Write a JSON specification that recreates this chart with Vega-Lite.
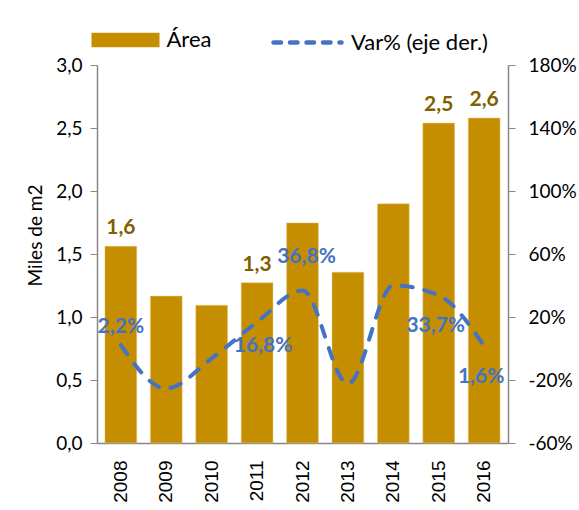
{
  "$schema": "https://vega.github.io/schema/vega-lite/v6.json",
  "width": 411,
  "height": 378,
  "autosize": {"type": "none"},
  "padding": {"left": 97, "top": 65, "right": 71, "bottom": 67},
  "background": "#ffffff",
  "config": {
    "view": {"stroke": null},
    "font": "Lato",
    "axis": {"grid": false, "domainColor": "#868686", "tickColor": "#868686", "labelColor": "#000000", "titleColor": "#000000", "labelFont": "Lato", "titleFont": "Lato", "titleFontWeight": "normal"}
  },
  "data": {
    "values": [
      {"year": "2008", "area": 1.562, "var": 2.2},
      {"year": "2009", "area": 1.166, "var": -25.4},
      {"year": "2010", "area": 1.093, "var": -6.3},
      {"year": "2011", "area": 1.272, "var": 16.8},
      {"year": "2012", "area": 1.747, "var": 36.8},
      {"year": "2013", "area": 1.356, "var": -22.4},
      {"year": "2014", "area": 1.898, "var": 40.0},
      {"year": "2015", "area": 2.539, "var": 33.7},
      {"year": "2016", "area": 2.579, "var": 1.6}
    ]
  },
  "encoding": {
    "x": {
      "field": "year",
      "type": "nominal",
      "scale": {"paddingInner": 0.3, "paddingOuter": 0.175},
      "axis": {"title": null, "labelAngle": -90, "labelFont": "Liberation Sans", "labelFontSize": 19, "labelPadding": 17, "ticks": false, "domainWidth": 1.5}
    }
  },
  "layer": [
    {
      "layer": [
        {
          "mark": {"type": "bar", "stroke": "#e8c878", "strokeWidth": 0.5},
          "encoding": {
            "y": {"field": "area", "type": "quantitative", "scale": {"domain": [0, 3], "nice": false},
              "axis": {"title": "Miles de m2", "titleFontSize": 19, "titlePadding": 10, "titleY": 170, "values": [0, 0.5, 1, 1.5, 2, 2.5, 3], "labelExpr": "replace(format(datum.value, '.1f'), '.', ',')", "labelFontSize": 19, "labelPadding": 8, "tickSize": 7, "domainWidth": 1.5}},
            "color": {"datum": "Área", "type": "nominal", "scale": {"domain": ["Área"], "range": ["#c58e00"]},
              "legend": {"title": null, "orient": "none", "legendX": -5.5, "legendY": -59, "padding": 0, "symbolType": "M-1,-0.216H1V0.216H-1Z", "symbolSize": 4624, "symbolStrokeWidth": 0, "labelFontSize": 22, "labelFont": "Lato", "labelColor": "#000000", "labelOffset": 7}}
          }
        },
        {
          "transform": [
            {"filter": "indexof(['2008','2011','2015','2016'], datum.year) >= 0"},
            {"calculate": "replace(format(datum.area, '.1f'), '.', ',')", "as": "lab"}
          ],
          "mark": {"type": "text", "baseline": "bottom", "dy": -8, "fontSize": 21, "fontWeight": "bold", "color": "#7f6000"},
          "encoding": {
            "y": {"field": "area", "type": "quantitative", "scale": {"domain": [0, 3], "nice": false},
              "axis": {"title": "Miles de m2", "titleFontSize": 19, "titlePadding": 10, "titleY": 170, "values": [0, 0.5, 1, 1.5, 2, 2.5, 3], "labelExpr": "replace(format(datum.value, '.1f'), '.', ',')", "labelFontSize": 19, "labelPadding": 8, "tickSize": 7, "domainWidth": 1.5}},
            "text": {"field": "lab"}
          }
        }
      ]
    },
    {
      "layer": [
        {
          "mark": {"type": "line", "strokeWidth": 4, "strokeCap": "round", "strokeDash": [11, 12], "interpolate": "monotone"},
          "encoding": {
            "y": {"field": "var", "type": "quantitative", "scale": {"domain": [-60, 180], "nice": false},
              "axis": {"orient": "right", "title": null, "values": [-60, -20, 20, 60, 100, 140, 180], "labelExpr": "datum.value + '%'", "labelFontSize": 19, "labelPadding": 13, "tickSize": 7, "domainWidth": 1.5}},
            "color": {"datum": "Var% (eje der.)", "type": "nominal", "scale": {"domain": ["Var% (eje der.)"], "range": ["#4472c4"]},
              "legend": {"title": null, "orient": "none", "legendX": 174, "legendY": -59, "padding": 0, "symbolType": "stroke", "symbolSize": 4624, "symbolStrokeWidth": 4.5, "symbolDash": [7.5, 9], "labelFontSize": 22, "labelFont": "Lato", "labelColor": "#000000", "labelOffset": 7,
                "encode": {"symbols": {"update": {"strokeCap": {"value": "round"}}}}}}
          }
        },
        {
          "transform": [
            {"filter": "datum.year == '2008'"},
            {"calculate": "replace(format(datum.var, '.1f'), '.', ',') + '%'", "as": "lab"}
          ],
          "mark": {"type": "text", "dy": -18, "fontSize": 21, "fontWeight": "bold", "color": "#4472c4"},
          "encoding": {
            "y": {"field": "var", "type": "quantitative", "scale": {"domain": [-60, 180], "nice": false},
              "axis": {"orient": "right", "title": null, "values": [-60, -20, 20, 60, 100, 140, 180], "labelExpr": "datum.value + '%'", "labelFontSize": 19, "labelPadding": 13, "tickSize": 7, "domainWidth": 1.5}},
            "text": {"field": "lab"}
          }
        },
        {
          "transform": [
            {"filter": "datum.year == '2012'"},
            {"calculate": "replace(format(datum.var, '.1f'), '.', ',') + '%'", "as": "lab"}
          ],
          "mark": {"type": "text", "dy": -34, "dx": 4, "fontSize": 21, "fontWeight": "bold", "color": "#4472c4"},
          "encoding": {
            "y": {"field": "var", "type": "quantitative", "scale": {"domain": [-60, 180], "nice": false},
              "axis": {"orient": "right", "title": null, "values": [-60, -20, 20, 60, 100, 140, 180], "labelExpr": "datum.value + '%'", "labelFontSize": 19, "labelPadding": 13, "tickSize": 7, "domainWidth": 1.5}},
            "text": {"field": "lab"}
          }
        },
        {
          "transform": [
            {"filter": "datum.year == '2011'"},
            {"calculate": "replace(format(datum.var, '.1f'), '.', ',') + '%'", "as": "lab"}
          ],
          "mark": {"type": "text", "dy": 24, "dx": 6, "fontSize": 21, "fontWeight": "bold", "color": "#4472c4"},
          "encoding": {
            "y": {"field": "var", "type": "quantitative", "scale": {"domain": [-60, 180], "nice": false},
              "axis": {"orient": "right", "title": null, "values": [-60, -20, 20, 60, 100, 140, 180], "labelExpr": "datum.value + '%'", "labelFontSize": 19, "labelPadding": 13, "tickSize": 7, "domainWidth": 1.5}},
            "text": {"field": "lab"}
          }
        },
        {
          "transform": [
            {"filter": "datum.year == '2015' || datum.year == '2016'"},
            {"calculate": "replace(format(datum.var, '.1f'), '.', ',') + '%'", "as": "lab"}
          ],
          "mark": {"type": "text", "dy": 31, "dx": -3, "fontSize": 21, "fontWeight": "bold", "color": "#4472c4"},
          "encoding": {
            "y": {"field": "var", "type": "quantitative", "scale": {"domain": [-60, 180], "nice": false},
              "axis": {"orient": "right", "title": null, "values": [-60, -20, 20, 60, 100, 140, 180], "labelExpr": "datum.value + '%'", "labelFontSize": 19, "labelPadding": 13, "tickSize": 7, "domainWidth": 1.5}},
            "text": {"field": "lab"}
          }
        }
      ]
    }
  ],
  "resolve": {"scale": {"y": "independent", "color": "independent"}}
}
